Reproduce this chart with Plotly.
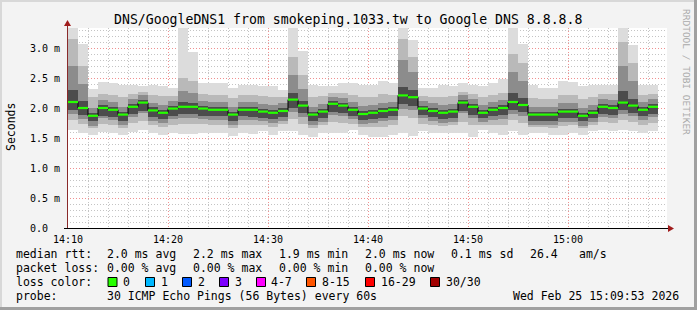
import plotly.graph_objects as go
import pandas as pd

# ---------------- data ----------------
start_time = "2026-02-25 14:10:00"
n_bars = 59
bar_starts = pd.date_range(start_time, periods=n_bars, freq="60s")

rtt_med = [2.10, 2.00, 1.87, 2.00, 1.97, 1.89, 2.02, 2.09, 1.96, 1.92,
           1.99, 2.02, 2.02, 1.99, 1.97, 1.97, 1.89, 1.97, 1.97, 1.94,
           1.92, 1.95, 2.14, 2.04, 1.89, 1.94, 2.07, 2.04, 1.97, 1.90,
           1.92, 1.95, 1.97, 2.21, 2.18, 1.99, 1.95, 1.92, 1.94, 2.09,
           2.02, 1.92, 1.97, 2.00, 2.10, 2.05, 1.89, 1.89, 1.89, 1.94,
           1.94, 1.87, 1.92, 2.02, 2.00, 2.09, 2.04, 1.97, 2.02]
rtt_min = [1.63, 1.58, 1.55, 1.60, 1.59, 1.55, 1.60, 1.63, 1.58, 1.55,
           1.58, 1.57, 1.57, 1.58, 1.58, 1.58, 1.53, 1.58, 1.57, 1.61,
           1.55, 1.61, 1.61, 1.55, 1.52, 1.58, 1.58, 1.58, 1.63, 1.55,
           1.52, 1.52, 1.55, 1.58, 1.53, 1.61, 1.58, 1.58, 1.58, 1.58,
           1.52, 1.63, 1.58, 1.55, 1.61, 1.55, 1.58, 1.58, 1.55, 1.55,
           1.58, 1.55, 1.61, 1.63, 1.61, 1.63, 1.61, 1.58, 1.61]
rtt_max = [3.40, 3.06, 2.32, 2.43, 2.42, 2.38, 2.39, 2.37, 2.38, 2.36,
           2.33, 3.40, 2.93, 2.41, 2.41, 2.41, 2.33, 2.38, 2.39, 2.37,
           2.37, 2.30, 3.40, 2.95, 2.38, 2.37, 2.36, 2.41, 2.41, 2.38,
           2.39, 2.45, 2.41, 3.40, 3.14, 2.33, 2.34, 2.38, 2.37, 2.41,
           2.39, 2.36, 2.41, 2.48, 3.40, 3.07, 2.38, 2.33, 2.33, 2.45,
           2.44, 2.36, 2.38, 2.39, 2.38, 3.40, 3.05, 2.39, 2.39]
rtt_p15 = [1.80, 1.74, 1.66, 1.73, 1.72, 1.67, 1.75, 1.78, 1.71, 1.69,
           1.72, 1.74, 1.74, 1.73, 1.72, 1.72, 1.66, 1.72, 1.71, 1.72,
           1.69, 1.73, 1.82, 1.74, 1.66, 1.71, 1.76, 1.75, 1.74, 1.68,
           1.68, 1.69, 1.71, 1.86, 1.83, 1.74, 1.71, 1.70, 1.71, 1.77,
           1.72, 1.72, 1.72, 1.72, 1.80, 1.75, 1.68, 1.68, 1.67, 1.70,
           1.71, 1.66, 1.72, 1.76, 1.75, 1.80, 1.76, 1.72, 1.75]
rtt_p85 = [3.15, 2.70, 2.18, 2.24, 2.22, 2.18, 2.24, 2.26, 2.22, 2.20,
           2.20, 2.50, 2.45, 2.23, 2.22, 2.22, 2.16, 2.21, 2.22, 2.20,
           2.19, 2.18, 2.85, 2.55, 2.18, 2.20, 2.25, 2.25, 2.22, 2.18,
           2.19, 2.23, 2.22, 3.15, 2.85, 2.20, 2.19, 2.19, 2.20, 2.27,
           2.23, 2.19, 2.22, 2.25, 2.90, 2.75, 2.17, 2.15, 2.15, 2.22,
           2.22, 2.15, 2.19, 2.23, 2.23, 3.10, 2.75, 2.21, 2.23]
rtt_p25 = [1.90, 1.82, 1.70, 1.83, 1.80, 1.72, 1.85, 1.91, 1.79, 1.75,
           1.82, 1.84, 1.84, 1.82, 1.80, 1.80, 1.72, 1.80, 1.80, 1.78,
           1.75, 1.79, 1.93, 1.85, 1.72, 1.77, 1.89, 1.87, 1.81, 1.73,
           1.75, 1.78, 1.80, 1.98, 1.96, 1.83, 1.78, 1.75, 1.77, 1.91,
           1.84, 1.76, 1.80, 1.82, 1.90, 1.86, 1.72, 1.72, 1.72, 1.77,
           1.77, 1.70, 1.76, 1.85, 1.84, 1.90, 1.86, 1.80, 1.85]
rtt_p75 = [2.70, 2.40, 2.00, 2.13, 2.10, 2.02, 2.15, 2.21, 2.09, 2.05,
           2.12, 2.28, 2.25, 2.12, 2.10, 2.10, 2.02, 2.10, 2.10, 2.07,
           2.05, 2.08, 2.55, 2.32, 2.02, 2.07, 2.19, 2.17, 2.10, 2.03,
           2.05, 2.08, 2.10, 2.80, 2.60, 2.12, 2.08, 2.05, 2.07, 2.22,
           2.15, 2.05, 2.10, 2.14, 2.60, 2.45, 2.02, 2.02, 2.02, 2.08,
           2.08, 2.00, 2.05, 2.15, 2.13, 2.70, 2.45, 2.10, 2.15]
rtt_p35 = [1.97, 1.88, 1.78, 1.87, 1.85, 1.79, 1.90, 1.95, 1.85, 1.82,
           1.87, 1.90, 1.90, 1.87, 1.86, 1.86, 1.79, 1.86, 1.85, 1.84,
           1.82, 1.85, 2.00, 1.91, 1.79, 1.84, 1.94, 1.92, 1.87, 1.80,
           1.82, 1.84, 1.86, 2.06, 2.04, 1.88, 1.85, 1.82, 1.84, 1.95,
           1.89, 1.83, 1.86, 1.88, 1.97, 1.93, 1.79, 1.79, 1.79, 1.84,
           1.84, 1.78, 1.83, 1.90, 1.89, 1.97, 1.92, 1.86, 1.90]
rtt_p65 = [2.30, 2.12, 1.92, 2.05, 2.02, 1.94, 2.07, 2.14, 2.01, 1.97,
           2.04, 2.10, 2.09, 2.04, 2.02, 2.02, 1.94, 2.02, 2.02, 1.99,
           1.97, 2.00, 2.25, 2.12, 1.94, 1.99, 2.12, 2.09, 2.02, 1.95,
           1.97, 2.00, 2.02, 2.35, 2.30, 2.04, 2.00, 1.97, 1.99, 2.14,
           2.07, 1.97, 2.02, 2.05, 2.25, 2.16, 1.94, 1.94, 1.94, 1.99,
           1.99, 1.92, 1.97, 2.07, 2.05, 2.28, 2.15, 2.02, 2.07]

y_tick_vals = [0.0, 0.5, 1.0, 1.5, 2.0, 2.5, 3.0]
y_tick_text = ["0.0\u00a0\u00a0", "0.5 m", "1.0 m", "1.5 m", "2.0 m", "2.5 m", "3.0 m"]

title_text = "DNS/GoogleDNS1 from smokeping.1033.tw to Google DNS 8.8.8.8"
stat_rtt = ["2.0 ms avg", "2.2 ms max", "1.9 ms min", "2.0 ms now", "0.1 ms sd", "26.4", "am/s"]
stat_loss = ["0.00 % avg", "0.00 % max", "0.00 % min", "0.00 % now"]
loss_labels = ["0", "1", "2", "3", "4-7", "8-15", "16-29", "30/30"]
loss_colors = ["#26ff00", "#00b8ff", "#0059ff", "#7e00ff", "#ff00ff", "#ff5500", "#ff0000", "#a10000"]
probe_text = "30 ICMP Echo Pings (56 Bytes) every 60s"
stamp_text = "Wed Feb 25 15:09:53 2026"

# ---------------- geometry helpers (layout only) ----------------
W, H = 697, 310
L, R, T, B = 67, 30, 28, 82
PW, PH = W - L - R, H - T - B


def px(x):
    return (x - L) / PW


def py(y):
    return (H - B - y) / PH


MONO = "DejaVu Sans Mono"
bar_w = 60000
centers = bar_starts + pd.Timedelta(seconds=30)
ends = bar_starts + pd.Timedelta(seconds=60)

fig = go.Figure()

bands = [
    (rtt_min, rtt_max, "#dcdcdc"),
    (rtt_p15, rtt_p85, "#b9b9b9"),
    (rtt_p25, rtt_p75, "#8c8c8c"),
    (rtt_p35, rtt_p65, "#4c4c4c"),
]
for lo, hi, col in bands:
    fig.add_trace(go.Bar(
        x=centers, base=lo, y=[h - l for l, h in zip(lo, hi)], width=bar_w,
        marker=dict(color=col, line=dict(width=0)), hoverinfo="skip", showlegend=False))

# black step median line
fig.add_trace(go.Scatter(
    x=list(bar_starts) + [ends[-1]], y=rtt_med + [rtt_med[-1]], mode="lines",
    line=dict(color="#000000", width=1, shape="hv"), hoverinfo="skip", showlegend=False))

# green (0 loss) median segments
gx, gy = [], []
for s, e, m in zip(bar_starts, ends, rtt_med):
    gx += [s, e, None]
    gy += [m, m, None]
fig.add_trace(go.Scatter(x=gx, y=gy, mode="lines", line=dict(color=loss_colors[0], width=2.2),
                         hoverinfo="skip", showlegend=False))

# ---------------- layout ----------------
x0 = pd.Timestamp(start_time) - pd.Timedelta(seconds=6)
x1 = x0 + pd.Timedelta(minutes=60)

fig.update_layout(
    width=W, height=H, margin=dict(l=L, r=R, t=T, b=B, pad=0),
    paper_bgcolor="#f3f3f3", plot_bgcolor="#ffffff",
    barmode="overlay", bargap=0, showlegend=False,
    font=dict(family=MONO, size=10, color="#000000"),
    xaxis=dict(type="date", range=[x0, x1], tick0=start_time, dtick=600000,
               tickformat="%H:%M", showgrid=True, gridcolor="#f09090", griddash="1px,2px",
               gridwidth=1, zeroline=False, showline=False, ticks="",
               ticklabelstandoff=4, tickfont=dict(family=MONO, size=10),
               minor=dict(dtick=120000, showgrid=True, gridcolor="#c4c4c4",
                          griddash="1px,2px", gridwidth=1)),
    yaxis=dict(range=[0, PH / 60.0], tickvals=y_tick_vals, ticktext=y_tick_text,
               showgrid=True, gridcolor="#f09090", griddash="1px,2px", gridwidth=1,
               zeroline=False, showline=False, ticks="", ticklabelstandoff=6,
               tickfont=dict(family=MONO, size=10),
               minor=dict(dtick=0.1, showgrid=True, gridcolor="#c4c4c4",
                          griddash="1px,2px", gridwidth=1)),
)

shapes = []
# frame
shapes.append(dict(type="rect", xref="paper", yref="paper", x0=px(0), x1=px(W), y0=py(0), y1=py(2),
                   fillcolor="#d8d8d8", line=dict(width=0), layer="above"))
shapes.append(dict(type="rect", xref="paper", yref="paper", x0=px(0), x1=px(2), y0=py(0), y1=py(H),
                   fillcolor="#d8d8d8", line=dict(width=0), layer="above"))
shapes.append(dict(type="rect", xref="paper", yref="paper", x0=px(0), x1=px(W), y0=py(H - 3), y1=py(H),
                   fillcolor="#a0a0a0", line=dict(width=0), layer="above"))
shapes.append(dict(type="rect", xref="paper", yref="paper", x0=px(W - 3), x1=px(W), y0=py(0), y1=py(H),
                   fillcolor="#a0a0a0", line=dict(width=0), layer="above"))
# axes
shapes.append(dict(type="line", xref="paper", yref="paper", x0=px(67.5), x1=px(67.5), y0=py(228), y1=py(22),
                   line=dict(color="#8a2a2a", width=1), layer="above"))
shapes.append(dict(type="line", xref="paper", yref="paper", x0=px(64), x1=px(670), y0=py(228.5), y1=py(228.5),
                   line=dict(color="#000000", width=1), layer="above"))
# arrows
shapes.append(dict(type="path", xref="paper", yref="paper",
                   path=f"M {px(64)},{py(26)} L {px(71)},{py(26)} L {px(67.5)},{py(20)} Z",
                   fillcolor="#a01c1c", line=dict(width=0), layer="above"))
shapes.append(dict(type="path", xref="paper", yref="paper",
                   path=f"M {px(668)},{py(225)} L {px(668)},{py(232)} L {px(674)},{py(228.5)} Z",
                   fillcolor="#a01c1c", line=dict(width=0), layer="above"))

ann = []


def text(s, x, y, size=11.5, anchor="left", color="#000000", angle=0):
    ann.append(dict(text=s, x=px(x), y=py(y), xref="paper", yref="paper", showarrow=False,
                    xanchor=anchor, yanchor="middle", textangle=angle,
                    font=dict(family=MONO, size=size, color=color), borderpad=0))


text(title_text, 348, 19, size=13.2, anchor="center")
text("Seconds", 11, 127, size=11.5, anchor="center", angle=-90)
text("RRDTOOL / TOBI OETIKER", 687, 72, size=9.5, anchor="center", color="#aaaaaa", angle=90)

row_y = [254, 268, 282, 296]
col_x = [107, 193, 279, 365, 451, 530, 579]
text("median rtt:", 15, row_y[0])
for s, x in zip(stat_rtt, col_x):
    text(s, x - 1, row_y[0])
text("packet loss:", 15, row_y[1])
for s, x in zip(stat_loss, col_x):
    text(s, x - 1, row_y[1])
text("loss color:", 15, row_y[2])
sq_x = [108, 145.5, 182.5, 219.5, 256.5, 306.5, 365.5, 430.5]
lab_x = [123, 160.5, 197.5, 234.5, 271, 321.5, 380.5, 445.5]
for lab, col, sx, lx in zip(loss_labels, loss_colors, sq_x, lab_x):
    shapes.append(dict(type="rect", xref="paper", yref="paper", x0=px(sx), x1=px(sx + 9),
                       y0=py(row_y[2] + 4.5), y1=py(row_y[2] - 4.5), fillcolor=col,
                       line=dict(color="#000000", width=1), layer="above"))
    text(lab, lx - 1, row_y[2])
text("probe:", 15, row_y[3])
text(probe_text, 106, row_y[3])
text(stamp_text, 512, row_y[3])

fig.update_layout(shapes=shapes, annotations=ann)
fig.write_html("out.html")
